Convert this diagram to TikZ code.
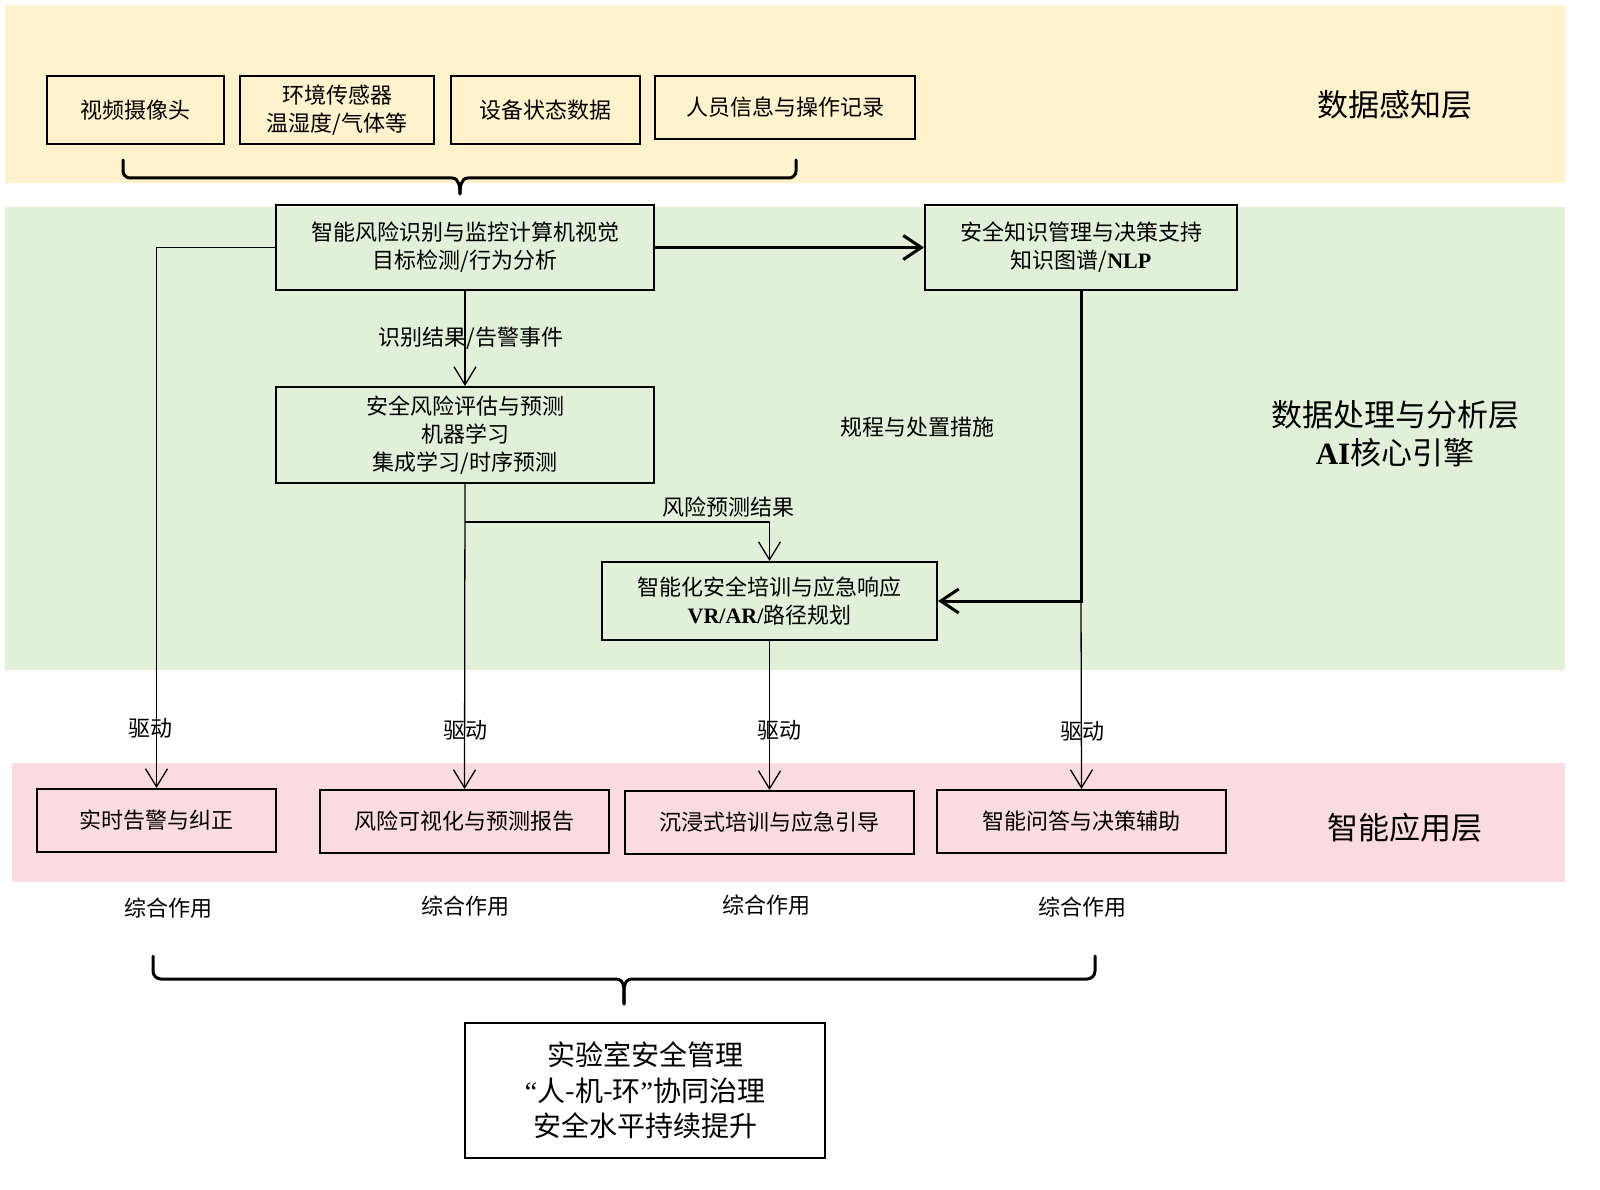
\documentclass[tikz,border=0pt]{standalone}
\usepackage{fontspec}
\setmainfont{Noto Sans CJK SC}
\newfontfamily\lat{Liberation Serif}
\usetikzlibrary{arrows.meta}
\definecolor{bandY}{HTML}{FFF2CC}
\definecolor{bandG}{HTML}{E2F0D9}
\definecolor{bandP}{HTML}{FADBE1}
\tikzset{
  box/.style={draw, line width=2pt, inner sep=0pt, align=center, font=\fontsize{22}{28}\selectfont},
  lbl/.style={inner sep=0pt, font=\fontsize{22}{26}\selectfont},
  layer/.style={inner sep=0pt, align=center, font=\fontsize{31}{38}\selectfont},
  thin/.style={line width=1.3pt, -{Straight Barb[length=18pt,width=22pt,line width=1.3pt]}},
  thick/.style={line width=3pt, -{Straight Barb[length=18pt,width=24pt,line width=3pt]}},
  bracepath/.style={line width=3pt, line cap=round}
}
\newcommand{\LB}[1]{{\lat\bfseries #1}}
\begin{document}
\begin{tikzpicture}[x=1pt,y=-1pt]
\useasboundingbox (0,0) rectangle (1600,1190);
% bands
\fill[bandY] (5,5) rectangle (1565,183);
\fill[bandG] (5,207) rectangle (1565,670);
\fill[bandP] (12,763) rectangle (1565,882);
% layer labels
\node[layer] (L1) at (1395,105) {数据感知层};
\node[layer] (L2) at (1395,434) {数据处理与分析层\\\LB{AI}核心引擎};
\node[layer] (L3) at (1405,828) {智能应用层};
% top boxes
\node[box, minimum width=177pt, minimum height=68pt] (s1) at (135.5,110) {视频摄像头};
\node[box, minimum width=194pt, minimum height=68pt] (s2) at (337,110) {环境传感器\\温湿度/气体等};
\node[box, minimum width=189pt, minimum height=68pt] (s3) at (545.5,110) {设备状态数据};
\node[box, minimum width=260pt, minimum height=63pt] (s4) at (785,107.5) {人员信息与操作记录};
% top brace
\coordinate (bt1) at (123,160);
\coordinate (bt2) at (796,160);
\coordinate (btip) at (460,194);
\draw[bracepath] (bt1) -- (123,171) to[out=-90,in=180] (130,178) -- (452,178) to[out=0,in=90] (btip);
\draw[bracepath] (btip) to[out=90,in=180] (468,178) -- (789,178) to[out=0,in=-90] (796,171) -- (bt2);
% green boxes
\node[box, minimum width=378pt, minimum height=85pt] (A) at (465,247.5) {智能风险识别与监控计算机视觉\\目标检测/行为分析};
\node[box, minimum width=312pt, minimum height=85pt] (B) at (1081,247.5) {安全知识管理与决策支持\\知识图谱/\LB{NLP}};
\node[box, minimum width=378pt, minimum height=96pt] (C) at (465,435) {安全风险评估与预测\\机器学习\\集成学习/时序预测};
\node[box, minimum width=335pt, minimum height=78pt] (D) at (769.5,601) {智能化安全培训与应急响应\\\LB{VR/AR/}路径规划};
% bottom boxes
\node[box, minimum width=239pt, minimum height=63pt] (r1) at (156.5,820.5) {实时告警与纠正};
\node[box, minimum width=289pt, minimum height=63pt] (r2) at (464.5,821.5) {风险可视化与预测报告};
\node[box, minimum width=289pt, minimum height=63pt] (r3) at (769.5,822.5) {沉浸式培训与应急引导};
\node[box, minimum width=289pt, minimum height=63pt] (r4) at (1081.5,821.5) {智能问答与决策辅助};
% final box
\node[box, minimum width=360pt, minimum height=135pt, font=\fontsize{28}{35.5}\selectfont] (F) at (645,1090.5) {实验室安全管理\\{\lat “}人-机-环{\lat ”}协同治理\\安全水平持续提升};
% arrows
\draw[thick] (A.east) -- (B.west);
\draw[thin] (A.south) -- (C.north);
\draw[thin] (A.west) -| (r1.north);
\draw[thin] (C.south) -- (r2.north);
\coordinate (j1) at (465,522);
\draw[thin] (j1) -| (D.north);
\draw[thick] (B.south) |- (D.east);
\coordinate (j2) at (1081,601);
\draw[thin] (j2) -- (r4.north);
\draw[thin] (D.south) -- (r3.north);
% labels
\node[lbl] (t1) at (471,338) {识别结果/告警事件};
\node[lbl] (t2) at (917,427) {规程与处置措施};
\node[lbl] (t3) at (728,507) {风险预测结果};
\node[lbl] (d1) at (150,728) {驱动};
\node[lbl] (d2) at (465,730) {驱动};
\node[lbl] (d3) at (779,730) {驱动};
\node[lbl] (d4) at (1082,731) {驱动};
\node[lbl] (z1) at (168,908) {综合作用};
\node[lbl] (z2) at (465,906) {综合作用};
\node[lbl] (z3) at (766,905) {综合作用};
\node[lbl] (z4) at (1082,907) {综合作用};
% bottom brace
\coordinate (bb1) at (153,956);
\coordinate (bb2) at (1095,956);
\coordinate (bbtip) at (624,1004);
\draw[bracepath] (bb1) -- (153,971) to[out=-90,in=180] (161,979) -- (616,979) to[out=0,in=90] (bbtip);
\draw[bracepath] (bbtip) to[out=90,in=180] (632,979) -- (1087,979) to[out=0,in=-90] (1095,971) -- (bb2);
\end{tikzpicture}
\end{document}
